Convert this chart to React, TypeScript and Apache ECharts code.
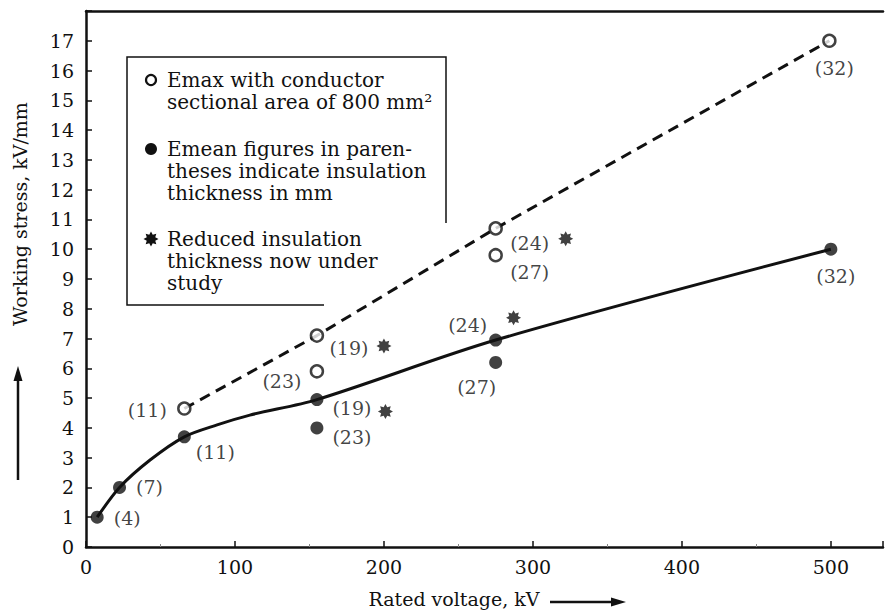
import React, { useEffect, useRef } from "react";
import * as echarts from "echarts";

// ---- Data ----
// Emax (open circles): [rated kV, stress kV/mm]
const emaxPoints: [number, number][] = [
  [66, 4.65], [155, 5.9], [155, 7.1], [275, 10.7], [275, 9.8], [499, 17],
];
const emaxLabels = ["(11)", "(23)", "(19)", "(24)", "(27)", "(32)"];
// Emean (filled circles)
const emeanPoints: [number, number][] = [
  [7.5, 1], [22.5, 2], [66, 3.7], [155, 4.95], [155, 4.0], [275, 6.95], [275, 6.2], [500, 10],
];
const emeanLabels = ["(4)", "(7)", "(11)", "(19)", "(23)", "(24)", "(27)", "(32)"];
// Reduced insulation thickness now under study (stars)
const reducedPoints: [number, number][] = [
  [200, 6.75], [201, 4.55], [287, 7.7], [322, 10.35],
];
// Curves
const emaxCurve: [number, number][] = [[66, 4.65], [155, 7.1], [275, 10.7], [499, 17]];
const emeanCurve: [number, number][] = [
  [7.5, 1], [22.5, 2], [43, 2.92], [66, 3.7], [88, 4.1], [110, 4.43], [155, 4.95], [275, 6.95], [500, 10],
];

const xTicks = [0, 100, 200, 300, 400, 500];
const yTicks = [0, 1, 2, 3, 4, 5, 6, 7, 8, 9, 10, 11, 12, 13, 14, 15, 16, 17];

const legendLines = [
  ["Emax with conductor", "sectional area of 800 mm²"],
  ["Emean figures in paren-", "theses indicate insulation", "thickness in mm"],
  ["Reduced insulation", "thickness now under", "study"],
];

// label offsets (styling only), same order as the label arrays
const emaxLabelOffsets = [[-37, 1], [-35, 10], [32, 12], [34, 15], [34, 17], [5, 27]];
const emeanLabelOffsets = [[30, 1], [30, 0], [31, 15], [35, 8], [35, 9], [-28, -15], [-19, 25], [5, 27]];

const FONT = "DejaVu Serif";
const INK = "#111";

function starPoints(cx: number, cy: number, ro: number, ri: number, n: number): number[][] {
  const pts: number[][] = [];
  for (let i = 0; i < n * 2; i++) {
    const r = i % 2 === 0 ? ro : ri;
    const a = (Math.PI * i) / n - Math.PI / 2;
    pts.push([cx + r * Math.cos(a), cy + r * Math.sin(a)]);
  }
  return pts;
}
const starSymbol =
  "path://" +
  starPoints(10, 10, 10, 6.2, 8)
    .map((p, i) => (i === 0 ? "M" : "L") + p[0].toFixed(2) + " " + p[1].toFixed(2))
    .join(" ") +
  " Z";

export default function App() {
  const ref = useRef<HTMLDivElement>(null);
  useEffect(() => {
    if (!ref.current) return;
    const chart = echarts.init(ref.current, undefined, { renderer: "svg" });

    const labelStyle = { fontFamily: FONT, fontSize: 19, color: INK, textBorderWidth: 0 };

    const legendGraphics: any[] = [];
    const rowYs = [[80, 102], [149, 171, 193], [239, 261, 283]];
    legendLines.forEach((lines, g) => {
      lines.forEach((t, k) => {
        legendGraphics.push({
          type: "text",
          x: 167,
          y: rowYs[g][k],
          style: { text: t, font: `20px "${FONT}"`, fill: INK, verticalAlign: "middle", align: "left" },
        });
      });
    });

    const option: any = {
      animation: false,
      backgroundColor: "#fff",
      grid: { left: 86, right: 0, top: 11, bottom: 65 },
      xAxis: [
        {
          type: "value",
          min: 0,
          max: 535,
          interval: 100,
          axisLine: { show: true, lineStyle: { color: INK, width: 2.5 } },
          axisTick: { show: true, inside: true, length: 6, lineStyle: { color: INK, width: 1.5 } },
          minorTick: { show: true, splitNumber: 2, length: 3, lineStyle: { color: "#888", width: 1 } },
          splitLine: { show: false },
          axisLabel: {
            fontFamily: FONT,
            fontSize: 19,
            color: INK,
            margin: 10,
            formatter: (v: number) => (xTicks.includes(v) ? String(v) : ""),
          },
        },
        {
          type: "value",
          position: "top",
          min: 0,
          max: 535,
          axisLine: { show: true, lineStyle: { color: INK, width: 2.5 } },
          axisTick: { show: false },
          axisLabel: { show: false },
          splitLine: { show: false },
        },
      ],
      yAxis: {
        type: "value",
        min: 0,
        max: 18,
        interval: 1,
        axisLine: { show: true, lineStyle: { color: INK, width: 2.5 } },
        axisTick: { show: true, inside: true, length: 6, lineStyle: { color: INK, width: 1.5 } },
        splitLine: { show: false },
        axisLabel: {
          fontFamily: FONT,
          fontSize: 19,
          color: INK,
          margin: 12,
          formatter: (v: number) => (yTicks.includes(v) ? String(v) : ""),
        },
      },
      series: [
        {
          type: "line",
          data: emeanCurve,
          smooth: 0.3,
          symbol: "none",
          lineStyle: { color: INK, width: 3 },
          z: 2,
        },
        {
          type: "line",
          data: emaxCurve,
          symbol: "none",
          lineStyle: { color: INK, width: 3, type: [11, 7] },
          z: 2,
        },
        {
          type: "scatter",
          data: emeanPoints.map((p, i) => ({
            value: p,
            label: {
              show: true,
              formatter: emeanLabels[i],
              position: "inside",
              offset: emeanLabelOffsets[i],
              ...labelStyle,
            },
          })),
          symbol: "circle",
          symbolSize: 13,
          itemStyle: { color: INK },
          z: 5,
        },
        {
          type: "scatter",
          data: emaxPoints.map((p, i) => ({
            value: p,
            label: {
              show: true,
              formatter: emaxLabels[i],
              position: "inside",
              offset: emaxLabelOffsets[i],
              ...labelStyle,
            },
          })),
          symbol: "circle",
          symbolSize: 12,
          itemStyle: { color: "#fff", borderColor: INK, borderWidth: 2.5 },
          z: 5,
        },
        {
          type: "scatter",
          data: reducedPoints,
          symbol: starSymbol,
          symbolSize: 15,
          itemStyle: { color: INK },
          z: 5,
        },
      ],
      graphic: [
        {
          type: "polyline",
          shape: { points: [[446, 223], [446, 57], [127, 57], [127, 305], [324, 305]] },
          style: { stroke: INK, lineWidth: 1.5, fill: null },
        },
        {
          type: "circle",
          shape: { cx: 151, cy: 80, r: 5 },
          style: { fill: "#fff", stroke: INK, lineWidth: 2.2 },
        },
        {
          type: "circle",
          shape: { cx: 151, cy: 149, r: 6 },
          style: { fill: INK },
        },
        {
          type: "polygon",
          shape: { points: starPoints(151, 239, 7.5, 4.6, 8) },
          style: { fill: INK },
        },
        ...legendGraphics,
        {
          type: "text",
          x: 20,
          y: 214,
          rotation: Math.PI / 2,
          style: {
            text: "Working stress, kV/mm",
            font: `19px "${FONT}"`,
            fill: INK,
            align: "center",
            verticalAlign: "middle",
          },
        },
        {
          type: "line",
          shape: { x1: 18, y1: 480, x2: 18, y2: 378 },
          style: { stroke: INK, lineWidth: 2.5 },
        },
        {
          type: "polygon",
          shape: { points: [[18, 366], [13.5, 381], [22.5, 381]] },
          style: { fill: INK },
        },
        {
          type: "text",
          x: 454,
          y: 599,
          style: {
            text: "Rated voltage, kV",
            font: `19px "${FONT}"`,
            fill: INK,
            align: "center",
            verticalAlign: "middle",
          },
        },
        {
          type: "line",
          shape: { x1: 550, y1: 602, x2: 614, y2: 602 },
          style: { stroke: INK, lineWidth: 2.5 },
        },
        {
          type: "polygon",
          shape: { points: [[626, 602], [611, 597.5], [611, 606.5]] },
          style: { fill: INK },
        },
      ],
    };
    chart.setOption(option);
    return () => chart.dispose();
  }, []);

  return <div ref={ref} style={{ width: 886, height: 612, position: "absolute", left: 0, top: 0 }} />;
}
